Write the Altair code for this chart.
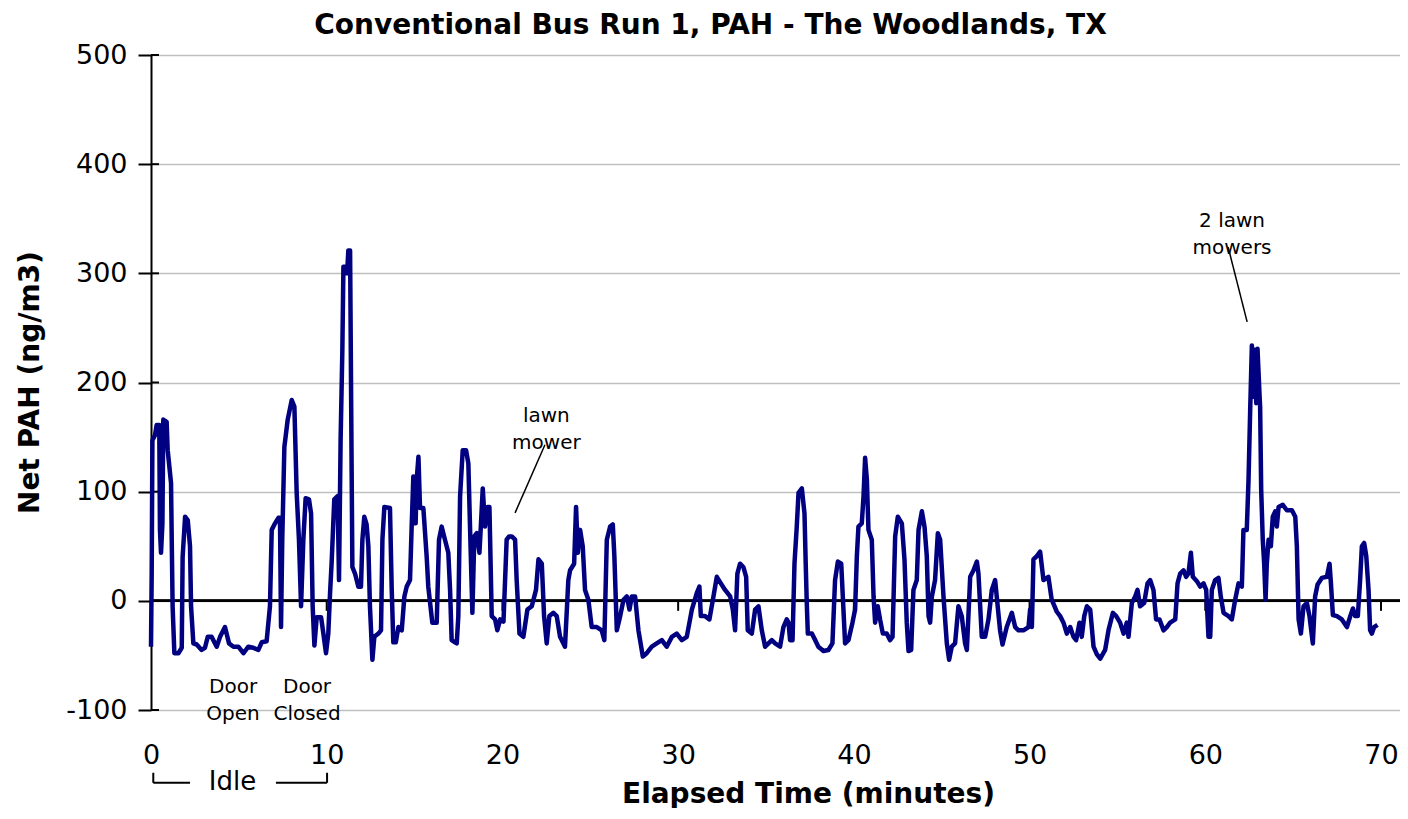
import altair as alt
import pandas as pd

FONT = "DejaVu Sans"

# ---- data (time in minutes, net PAH in ng/m3) ----
seg1 = [(0.0, -42), (0.04, 26), (0.08, 147), (0.23, 152), (0.32, 161), (0.47, 161), (0.51, 65), (0.57, 44),
        (0.65, 71), (0.70, 166), (0.89, 164), (0.95, 138), (1.14, 108), (1.18, 56), (1.23, -5), (1.33, -48),
        (1.56, -48), (1.75, -43), (1.80, 40), (1.94, 77), (2.09, 74), (2.22, 50), (2.28, -5), (2.41, -39),
        (2.60, -40), (2.88, -45), (3.07, -43), (3.23, -33), (3.45, -33), (3.74, -42), (3.93, -33), (4.21, -24),
        (4.44, -39), (4.69, -42), (4.97, -42), (5.26, -48), (5.54, -42), (5.82, -43), (6.11, -45), (6.30, -38),
        (6.58, -37), (6.77, -5), (6.87, 65), (7.06, 71), (7.25, 76), (7.34, 76), (7.40, -24), (7.47, 56),
        (7.59, 141), (7.78, 166), (8.01, 184), (8.16, 178), (8.29, 99), (8.42, 56), (8.54, -5), (8.67, 56),
        (8.80, 94), (8.99, 93), (9.11, 80), (9.20, -5), (9.30, -41), (9.43, -15), (9.68, -15), (9.81, -30),
        (9.96, -48), (10.09, -30), (10.19, 7), (10.28, 35), (10.43, 93), (10.62, 96), (10.70, 19), (10.79, 147),
        (10.89, 230), (10.95, 306), (11.10, 306), (11.16, 300), (11.23, 321), (11.33, 321), (11.42, 117),
        (11.46, 31), (11.61, 25), (11.80, 13), (11.95, 13), (12.03, 56), (12.14, 77), (12.27, 70), (12.37, 50),
        (12.46, -5), (12.60, -54), (12.71, -33), (12.94, -30), (13.09, -27), (13.17, 56), (13.28, 86),
        (13.60, 85), (13.70, 10), (13.79, -38), (13.93, -38), (14.08, -24), (14.27, -27), (14.42, 4),
        (14.55, 13), (14.74, 19), (14.84, 71), (14.93, 114), (15.06, 71), (15.12, 111), (15.22, 132),
        (15.31, 85), (15.50, 85), (15.69, 40), (15.78, 13), (16.01, -20), (16.26, -20), (16.39, 56),
        (16.54, 68), (16.73, 56), (16.92, 44), (17.02, 10), (17.11, -36), (17.30, -38)]

seg2 = [(17.40, -39), (17.49, -14), (17.59, 96), (17.74, 138), (17.93, 138), (18.06, 126), (18.16, 65),
        (18.29, -11), (18.40, 59), (18.54, 62), (18.69, 44), (18.77, 68), (18.88, 103), (19.01, 68),
        (19.14, 86), (19.26, 86), (19.39, -14), (19.58, -17), (19.71, -27), (19.87, -17), (20.06, -19),
        (20.24, 56), (20.38, 59), (20.53, 59), (20.72, 56), (20.81, 19), (20.97, -30), (21.19, -33),
        (21.42, -8), (21.67, -5), (21.91, 10), (22.05, 38), (22.24, 34), (22.37, -14), (22.52, -39),
        (22.67, -14), (22.90, -11), (23.09, -14), (23.28, -33), (23.56, -42), (23.75, 19), (23.85, 28),
        (24.08, 34), (24.19, 86), (24.29, 44), (24.42, 65), (24.57, 50), (24.70, 10), (24.89, 1),
        (25.08, -24), (25.37, -24), (25.65, -27), (25.80, -36), (25.94, 56), (26.13, 68), (26.28, 70),
        (26.37, 41), (26.51, -27), (26.70, -14), (26.89, 1), (27.08, 4), (27.23, -8), (27.36, 4), (27.55, 4),
        (27.74, -27), (27.99, -51), (28.21, -48), (28.50, -42), (28.78, -39), (29.07, -36), (29.35, -42),
        (29.64, -33), (29.92, -30), (30.21, -36), (30.49, -33), (30.78, -8), (31.06, 7), (31.21, 13),
        (31.29, -14), (31.53, -14), (31.78, -17), (32.01, 4), (32.20, 22), (32.43, 16), (32.67, 10),
        (32.96, 4), (33.11, -8), (33.24, -27), (33.37, 25), (33.52, 34), (33.71, 31), (33.87, 22),
        (33.96, -27), (34.19, -30), (34.38, -8)]

seg3 = [(34.57, -5), (34.76, -27), (34.95, -42), (35.14, -39), (35.33, -36), (35.52, -39), (35.80, -42),
        (35.99, -24), (36.18, -17), (36.28, -20), (36.37, -36), (36.51, -36), (36.62, 34), (36.75, 68),
        (36.85, 99), (37.04, 103), (37.19, 80), (37.26, 34), (37.32, -2), (37.38, -30), (37.61, -30),
        (37.80, -36), (37.98, -42), (38.27, -46), (38.55, -45), (38.78, -39), (38.93, 19), (39.09, 36),
        (39.28, 34), (39.37, 4), (39.50, -39), (39.69, -36), (39.92, -20), (40.07, -8), (40.17, 41),
        (40.26, 68), (40.45, 71), (40.55, 96), (40.64, 131), (40.74, 111), (40.83, 65), (41.02, 56),
        (41.12, 4), (41.21, -20), (41.36, -5), (41.49, -17), (41.65, -30), (41.87, -30), (42.06, -36),
        (42.20, -33), (42.35, 59), (42.50, 77), (42.73, 71), (42.88, 38), (43.01, -20), (43.11, -46),
        (43.26, -45), (43.39, 10), (43.58, 19), (43.68, 65), (43.87, 82), (44.02, 68), (44.15, 41),
        (44.25, -14), (44.34, -20), (44.44, 4), (44.62, 19), (44.78, 62), (44.91, 56), (45.10, 4),
        (45.29, -39), (45.42, -54), (45.57, -42), (45.76, -39), (45.95, -5), (46.14, -14), (46.33, -39),
        (46.43, -45), (46.62, 22), (46.81, 28), (47.00, 36), (47.09, 25), (47.28, -33), (47.47, -33),
        (47.66, -17), (47.85, 10), (48.04, 19), (48.13, 4), (48.32, -27), (48.46, -40), (48.70, -24),
        (48.99, -11), (49.18, -24), (49.37, -27), (49.65, -27), (49.94, -24), (50.03, -8), (50.13, -24),
        (50.22, 38), (50.41, 41), (50.60, 45), (50.79, 19), (51.07, 22), (51.26, 1), (51.55, -10),
        (51.74, -14)]

seg4 = [(51.93, -20), (52.12, -30), (52.31, -24), (52.50, -33), (52.65, -36), (52.84, -20), (52.97, -33),
        (53.11, -14), (53.26, -5), (53.45, -8), (53.64, -42), (53.83, -49), (54.02, -53), (54.30, -45),
        (54.49, -27), (54.74, -11), (54.93, -14), (55.15, -20), (55.35, -30), (55.53, -20), (55.63, -33),
        (55.82, -2), (56.01, 4), (56.14, 10), (56.29, -5), (56.52, -2), (56.71, 16), (56.86, 19), (57.05, 10),
        (57.20, -17), (57.39, -17), (57.62, -27), (57.81, -24), (58.00, -20), (58.29, -17), (58.42, 16),
        (58.57, 25), (58.76, 28), (58.91, 22), (59.04, 25), (59.18, 44), (59.29, 22), (59.52, 18),
        (59.71, 13), (59.90, 16), (60.05, 10), (60.18, -33), (60.28, -33), (60.37, 10), (60.56, 19),
        (60.75, 21), (60.88, 4), (61.04, -11), (61.32, -14), (61.51, -17), (61.70, 1), (61.89, 16),
        (62.08, 13), (62.17, 65), (62.36, 65), (62.46, 111), (62.55, 172), (62.65, 234), (62.71, 187),
        (62.80, 230), (62.90, 181), (62.97, 231), (63.09, 187), (63.12, 178), (63.18, 102), (63.27, 56),
        (63.35, 34), (63.43, 1), (63.50, 34), (63.60, 56), (63.73, 50), (63.84, 77), (63.98, 82), (64.07, 68),
        (64.17, 86), (64.41, 88), (64.64, 83), (64.93, 83), (65.12, 77), (65.21, 50), (65.31, -17),
        (65.44, -30), (65.59, -5), (65.78, -2), (65.93, -14), (66.12, -39), (66.25, 4), (66.39, 15),
        (66.63, 21), (66.92, 22), (67.07, 34), (67.15, 16), (67.26, -13), (67.49, -14), (67.77, -17),
        (68.06, -24), (68.25, -14), (68.40, -7), (68.53, -14), (68.68, -14), (68.81, 19), (68.91, 50),
        (69.04, 53), (69.16, 41), (69.29, 10), (69.38, -27), (69.48, -30), (69.61, -24), (69.80, -22)]

x_tick_values = [0, 10, 20, 30, 40, 50, 60, 70]
y_tick_values = [-100, 0, 100, 200, 300, 400, 500]
minor_x_ticks = [10, 20, 30, 40, 50, 60, 70]

notes_x = [4.67, 8.88, 22.5, 61.52]
notes_y = [-79, -79, 169, 348]
notes_text = ["Door\nOpen", "Door\nClosed", "lawn\nmower", "2 lawn\nmowers"]

idle_x = [4.64]
idle_y = [-166]
idle_text = ["Idle"]

leader_x = [22.42, 61.30]
leader_y = [143, 324]
leader_x2 = [20.72, 62.38]
leader_y2 = [80.6, 255.5]

bracket_x = [0.13, 0.13, 7.11, 10.02]
bracket_y = [-157.5, -166.7, -166.7, -157.5]
bracket_x2 = [0.13, 2.22, 10.02, 10.02]
bracket_y2 = [-166.7, -166.7, -166.7, -166.7]

X_DOMAIN = [0, 71.08]
Y_DOMAIN = [-100, 500]

# ---- build tables ----
df = pd.DataFrame(seg1 + seg2 + seg3 + seg4, columns=["t", "pah"])
zero_df = pd.DataFrame({"t": minor_x_ticks, "pah": [0] * len(minor_x_ticks)})
yt_df = pd.DataFrame({"pah": y_tick_values, "t": [0] * len(y_tick_values)})
notes_df = pd.DataFrame({"t": notes_x, "pah": notes_y, "label": notes_text})
idle_df = pd.DataFrame({"t": idle_x, "pah": idle_y, "label": idle_text})
lead_df = pd.DataFrame({"t": leader_x, "pah": leader_y, "t2": leader_x2, "pah2": leader_y2})
brk_df = pd.DataFrame({"t": bracket_x, "pah": bracket_y, "t2": bracket_x2, "pah2": bracket_y2})

xs = alt.Scale(domain=X_DOMAIN, nice=False, zero=False)
ys = alt.Scale(domain=Y_DOMAIN, nice=False)

x_axis = alt.Axis(
    values=x_tick_values, title="Elapsed Time (minutes)", titleFont=FONT, titleFontSize=28,
    titleFontWeight="bold", titleColor="black", titleX=657, titleY=84, titleBaseline="middle",
    titleAlign="center", labelFont=FONT, labelFontSize=27, labelColor="black", labelPadding=45,
    labelBaseline="middle", ticks=False, tickSize=0, domain=False, grid=False, labelFlush=False,
    labelOverlap=False, labelBound=False, labelExpr="'' + datum.value")

y_axis = alt.Axis(
    values=y_tick_values, title="Net PAH (ng/m3)", titleFont=FONT, titleFontSize=28,
    titleFontWeight="bold", titleColor="black", titleX=-121, titleY=327, titleAngle=270,
    titleBaseline="middle", titleAlign="center", labelFont=FONT, labelFontSize=27,
    labelColor="black", labelPadding=11, tickSize=13, tickWidth=2, tickColor="black",
    domain=True, domainColor="black", domainWidth=2, grid=True, gridColor="#c0c0c0",
    gridWidth=1.5, labelFlush=False, labelOverlap=False, labelExpr="'' + datum.value")

# first layer carries the axes (tick marks hanging below the zero line)
base_axes = alt.Chart(zero_df).mark_tick(
    orient="vertical", color="black", opacity=1, thickness=2, size=10, yOffset=5).encode(
    x=alt.X("t:Q", scale=xs, axis=x_axis), y=alt.Y("pah:Q", scale=ys, axis=y_axis))

zero_rule = alt.Chart(zero_df).mark_rule(color="black", strokeWidth=2).encode(
    y=alt.Y("pah:Q", scale=ys))

inner_ticks = alt.Chart(yt_df).mark_tick(
    orient="horizontal", color="black", opacity=1, thickness=2, size=8, xOffset=4).encode(
    x=alt.X("t:Q", scale=xs), y=alt.Y("pah:Q", scale=ys))

line = alt.Chart(df).mark_line(color="#000080", strokeWidth=4.5, strokeJoin="round").encode(
    x=alt.X("t:Q", scale=xs),
    y=alt.Y("pah:Q", scale=ys),
    order="t:Q")

notes = alt.Chart(notes_df).mark_text(
    font=FONT, fontSize=20, color="black", lineBreak="\n", lineHeight=27,
    align="center", baseline="middle").encode(
    x=alt.X("t:Q", scale=xs), y=alt.Y("pah:Q", scale=ys), text="label:N")

idle = alt.Chart(idle_df).mark_text(
    font=FONT, fontSize=26, color="black", align="center", baseline="middle").encode(
    x=alt.X("t:Q", scale=xs), y=alt.Y("pah:Q", scale=ys), text="label:N")

leaders = alt.Chart(lead_df).mark_rule(color="black", strokeWidth=1.5).encode(
    x=alt.X("t:Q", scale=xs), y=alt.Y("pah:Q", scale=ys),
    x2="t2:Q", y2="pah2:Q")

brackets = alt.Chart(brk_df).mark_rule(color="black", strokeWidth=2).encode(
    x=alt.X("t:Q", scale=xs), y=alt.Y("pah:Q", scale=ys),
    x2="t2:Q", y2="pah2:Q")

chart = alt.layer(
    base_axes, zero_rule, inner_ticks, line, notes, idle, leaders, brackets
).properties(
    width=1249, height=655,
    autosize=alt.AutoSizeParams(type="none"),
    padding={"left": 143, "top": 47, "right": 0, "bottom": 98},
    title=alt.Title("Conventional Bus Run 1, PAH - The Woodlands, TX", font=FONT, fontSize=28,
                    fontWeight="bold", color="black", anchor="middle", offset=1, dx=-65),
).configure_view(stroke=None).configure(background="white")

chart.save("out.html", embed_options={"renderer": "svg", "actions": False})
